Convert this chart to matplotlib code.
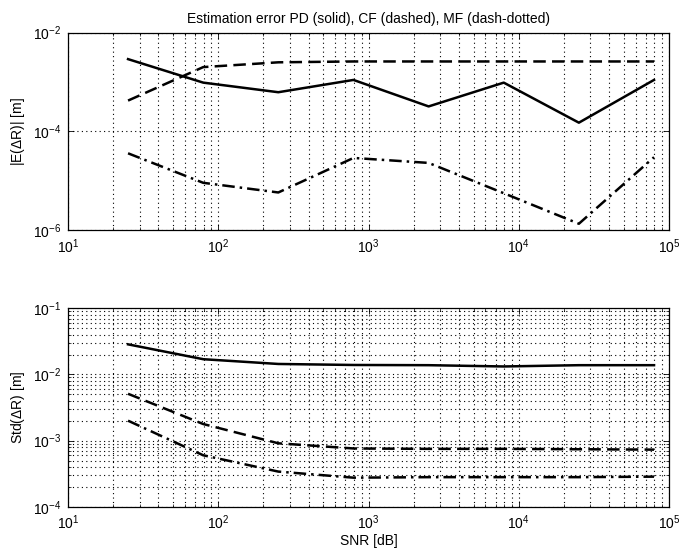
import numpy as np
import matplotlib
matplotlib.use('Agg')
import matplotlib.pyplot as plt
from matplotlib.ticker import LogLocator, NullLocator

plt.rcParams['font.family'] = ['Liberation Sans', 'DejaVu Sans']
plt.rcParams['mathtext.default'] = 'regular'
plt.rcParams['font.size'] = 10

# SNR points
snr = [25.1, 79.4, 251, 794, 2512, 7943, 25119, 79433]

# mean error |E(dR)|
mean_pd = [2.9e-3, 9.7e-4, 6.2e-4, 1.1e-3, 3.2e-4, 9.7e-4, 1.5e-4, 1.1e-3]
mean_cf = [4.2e-4, 2.0e-3, 2.5e-3, 2.6e-3, 2.6e-3, 2.6e-3, 2.6e-3, 2.6e-3]
mean_mf = [3.6e-5, 9.1e-6, 5.8e-6, 2.9e-5, 2.3e-5, 5.6e-6, 1.35e-6, 3.0e-5]

# std error Std(dR)
std_pd = [2.85e-2, 1.7e-2, 1.44e-2, 1.39e-2, 1.38e-2, 1.32e-2, 1.38e-2, 1.38e-2]
std_cf = [5.1e-3, 1.78e-3, 9.1e-4, 7.6e-4, 7.5e-4, 7.5e-4, 7.4e-4, 7.3e-4]
std_mf = [2.0e-3, 6.0e-4, 3.4e-4, 2.75e-4, 2.8e-4, 2.8e-4, 2.8e-4, 2.85e-4]

fig = plt.figure(figsize=(6.82, 5.52), dpi=100)
ax1 = fig.add_axes([0.0997, 0.583, 0.8813, 0.358])
ax2 = fig.add_axes([0.0997, 0.082, 0.8813, 0.3595])

dash = (0, (5, 2.5))
dashdot = (0, (5, 2, 1, 2))
dots = (0, (1, 3))
lw = 1.8

for ax in (ax1, ax2):
    ax.set_xscale('log')
    ax.set_yscale('log')
    ax.set_xlim(10, 1e5)
    ax.xaxis.set_major_locator(LogLocator(base=10))
    ax.xaxis.set_minor_locator(LogLocator(base=10, subs=np.arange(2, 10)))
    ax.tick_params(which='both', direction='in', top=True, right=True, labelsize=10)
    ax.tick_params(which='major', length=4, width=0.6, pad=5)
    ax.tick_params(which='minor', length=2, width=0.5)
    ax.grid(True, which='major', axis='both', linestyle=dots, color='black', linewidth=0.8)
    ax.grid(True, which='minor', axis='x', linestyle=dots, color='black', linewidth=0.8)
    for s in ax.spines.values():
        s.set_linewidth(0.9)

ax1.plot(snr, mean_pd, color='black', linewidth=lw, linestyle='-')
ax1.plot(snr, mean_cf, color='black', linewidth=lw, linestyle=dash)
ax1.plot(snr, mean_mf, color='black', linewidth=lw, linestyle=dashdot)
ax1.set_ylim(1e-6, 1e-2)
ax1.set_yticks([1e-6, 1e-4, 1e-2])
ax1.yaxis.set_minor_locator(NullLocator())
ax1.set_ylabel('|E($\\Delta$R)| [m]', fontsize=10)
ax1.set_title('Estimation error PD (solid), CF (dashed), MF (dash-dotted)', fontsize=10, pad=7)

ax2.plot(snr, std_pd, color='black', linewidth=lw, linestyle='-')
ax2.plot(snr, std_cf, color='black', linewidth=lw, linestyle=dash)
ax2.plot(snr, std_mf, color='black', linewidth=lw, linestyle=dashdot)
ax2.set_ylim(1e-4, 1e-1)
ax2.yaxis.set_major_locator(LogLocator(base=10))
ax2.yaxis.set_minor_locator(LogLocator(base=10, subs=np.arange(2, 10)))
ax2.grid(True, which='minor', axis='y', linestyle=dots, color='black', linewidth=0.8)
ax2.set_ylabel('Std($\\Delta$R) [m]', fontsize=10)
ax2.set_xlabel('SNR [dB]', fontsize=10, labelpad=1)

fig.savefig('out.png', dpi=100)
